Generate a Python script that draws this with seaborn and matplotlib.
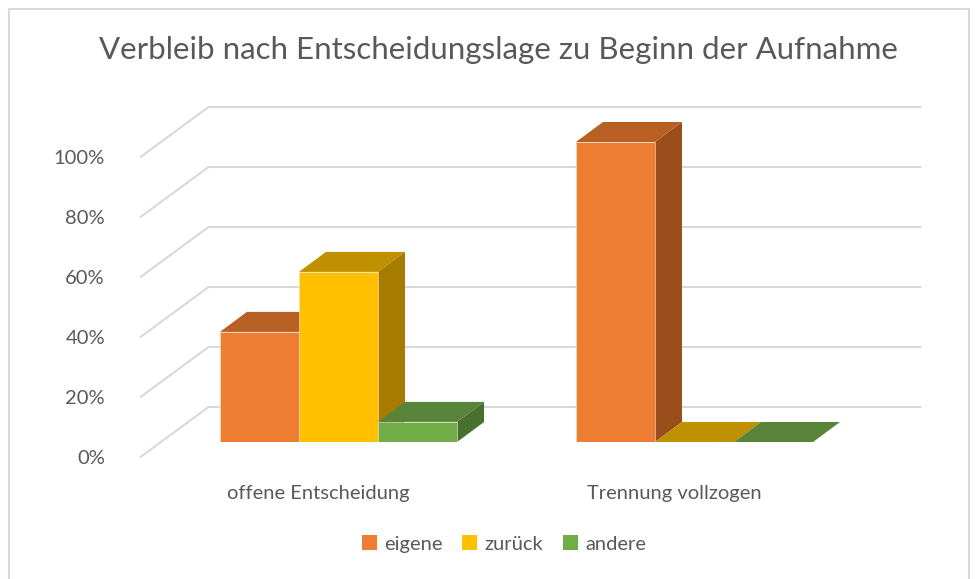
import pandas as pd
import numpy as np
import matplotlib
matplotlib.use("Agg")
import matplotlib.pyplot as plt
import seaborn as sns
from matplotlib.patches import Polygon, Rectangle
from matplotlib.lines import Line2D
from matplotlib.transforms import ScaledTranslation

categories = ["offene Entscheidung", "Trennung vollzogen"]
series_names = ["eigene", "zurück", "andere"]
eigene = [36.7, 100.0]
zurueck = [56.7, 0.0]
andere = [6.7, 0.0]
tick_values = [0, 20, 40, 60, 80, 100]
tick_labels = ["0%", "20%", "40%", "60%", "80%", "100%"]
front_colors = ["#ED7D31", "#FFC000", "#70AD47"]
top_colors = ["#B85F23", "#BF9000", "#58843A"]
side_colors = ["#994E1C", "#A67C00", "#48702E"]

W, H = 978, 579
TEXT = "#595959"
GRID = "#D9D9D9"

sns.set_theme(style="white")
plt.rcParams["font.family"] = ["Lato", "DejaVu Sans"]

df = pd.DataFrame({"cat": categories * 3,
                   "serie": np.repeat(series_names, 2),
                   "wert": eigene + zurueck + andere})

fig = plt.figure(figsize=(W / 100, H / 100), dpi=100)
# axes = the front plane of the bars, in pixels of the reference
left, right, top, bottom = 160.5, 872.5, 142, 442
ax = fig.add_axes([left / W, 1 - bottom / H, (right - left) / W, (bottom - top) / H])
ax.set_facecolor("none")

sns.barplot(data=df, x="cat", y="wert", hue="serie", order=categories, hue_order=series_names,
            palette=front_colors, saturation=1, width=0.666, gap=0, legend=False, ax=ax, linewidth=0)
ax.set_xlim(-0.5, 1.5)
ax.set_ylim(0, 100)

px_x = 2 / (right - left)
px_y = 100 / (bottom - top)

# floor and back wall grid lines
for v in tick_values:
    ax.add_line(Line2D([-0.5 - 20 * px_x, -0.5 + 48 * px_x, 1.5 + 48 * px_x],
                       [v - 15 * px_y, v + 35 * px_y, v + 35 * px_y],
                       color=GRID, lw=1.5, clip_on=False, zorder=1, solid_joinstyle="miter"))

# fake 3d: side and top of every bar, taken from the seaborn rectangles
dx, dy = 27 * px_x, 20 * px_y
bars = sorted(ax.patches, key=lambda p: p.get_x())
n = 2
for i, bar in enumerate(bars):
    s = i % 3
    x0, x1 = bar.get_x(), bar.get_x() + bar.get_width()
    h = bar.get_height()
    z = 2 + i
    bar.set_zorder(z + 0.5)
    if h > 0:
        bar.set_edgecolor("#F7E3D0")
        bar.set_linewidth(0.4)
        ax.add_patch(Polygon([(x1, 0), (x1 + dx, dy), (x1 + dx, h + dy), (x1, h)],
                             fc=side_colors[s], ec="none", clip_on=False, zorder=z))
    ax.add_patch(Polygon([(x0, h), (x0 + dx, h + dy), (x1 + dx, h + dy), (x1, h)],
                         fc=top_colors[s], ec="none", clip_on=False, zorder=z + 0.2))

ax.set_yticks(tick_values)
ax.set_yticklabels(tick_labels, fontsize=14.5, color=TEXT)
ax.set_xticks([0, 1])
ax.set_xticklabels(categories, fontsize=14.5, color=TEXT)
ax.set_xlabel("")
ax.set_ylabel("")
ax.tick_params(axis="both", length=0)
ax.tick_params(axis="y", pad=40)
ax.tick_params(axis="x", pad=31)
for lab in ax.get_yticklabels():
    lab.set_transform(lab.get_transform() + ScaledTranslation(0, -15 / 100, fig.dpi_scale_trans))
for lab in ax.get_xticklabels():
    lab.set_transform(lab.get_transform() + ScaledTranslation(-20 / 100, 0, fig.dpi_scale_trans))
sns.despine(ax=ax, left=True, bottom=True)

fig.text(498.5 / W, 1 - 50 / H, "Verbleib nach Entscheidungslage zu Beginn der Aufnahme",
         ha="center", va="center", fontsize=22.5, color=TEXT)

handles = [Rectangle((0, 0), 1, 1, fc=c, ec="none") for c in front_colors]
fig.legend(handles, series_names, loc="center", bbox_to_anchor=(504 / W, 1 - 544 / H), ncols=3,
           frameon=False, fontsize=14.5, labelcolor=TEXT, handlelength=0.75, handleheight=0.75,
           handletextpad=0.35, columnspacing=1.0)

# chart border
fig.add_artist(Rectangle((8.5 / W, -0.01), 961 / W, 1 - 8.5 / H + 0.01, transform=fig.transFigure,
                         fc="none", ec=GRID, lw=1.5))

fig.savefig("out.png", dpi=100)
